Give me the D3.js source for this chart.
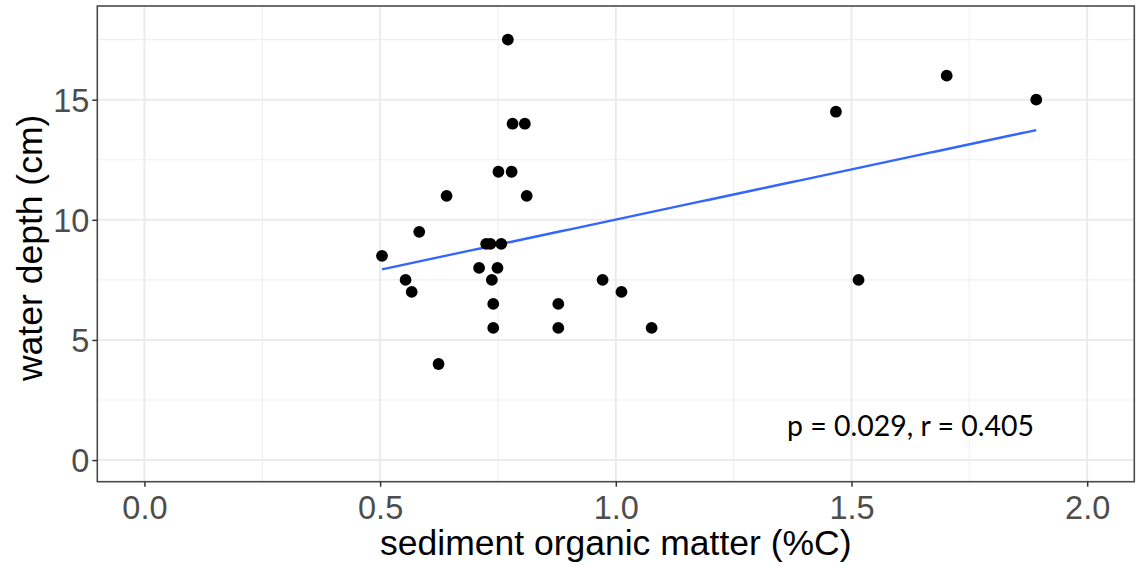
<!DOCTYPE html>
<html>
<head>
<meta charset="utf-8">
<script src="https://cdn.jsdelivr.net/npm/d3@7"></script>
<style>
  html, body { margin: 0; padding: 0; background: #ffffff; }
  svg { display: block; }
</style>
</head>
<body>
<svg id="chart" width="1141" height="565"></svg>
<script>
// Sediment organic matter (%C) vs water depth (cm), one entry per sampling site
const organicMatter = [
  0.771, 0.781, 0.807, 0.751, 0.779, 0.641, 0.811, 0.583, 0.725, 0.734,
  0.757, 0.504, 0.710, 0.749, 0.554, 0.737, 0.567, 0.740, 0.878, 0.740,
  0.878, 0.624, 0.972, 1.012, 1.076, 1.515, 1.467, 1.702, 1.892
];
const waterDepth = [
  17.5, 14, 14, 12, 12, 11, 11, 9.5, 9, 9,
  9, 8.5, 8, 8, 7.5, 7.5, 7, 6.5, 6.5, 5.5,
  5.5, 4, 7.5, 7, 5.5, 7.5, 14.5, 16, 15
];

const xTicks = [0, 0.5, 1.0, 1.5, 2.0];
const xMinorTicks = [0.25, 0.75, 1.25, 1.75];
const yTicks = [0, 5, 10, 15];
const yMinorTicks = [2.5, 7.5, 12.5, 17.5];
const xLimits = [0, 2];
const yLimits = [0, 18];
const xTitle = "sediment organic matter (%C)";
const yTitle = "water depth (cm)";
const statLabel = "p = 0.029, r = 0.405";

const svg = d3.select("#chart");
const panel = { left: 97.3, right: 1134.3, top: 6, bottom: 481.7 };

// 5% padding on both ends of each axis range
const pad = (lim) => {
  const e = (lim[1] - lim[0]) * 0.05;
  return [lim[0] - e, lim[1] + e];
};
const x = d3.scaleLinear().domain(pad(xLimits)).range([panel.left, panel.right]);
const y = d3.scaleLinear().domain(pad(yLimits)).range([panel.bottom, panel.top]);

// background
svg.append("rect")
  .attr("x", panel.left).attr("y", panel.top)
  .attr("width", panel.right - panel.left).attr("height", panel.bottom - panel.top)
  .attr("fill", "#ffffff");

// grid
const grid = svg.append("g");
grid.selectAll("line.xminor").data(xMinorTicks).join("line")
  .attr("x1", d => x(d)).attr("x2", d => x(d))
  .attr("y1", panel.top).attr("y2", panel.bottom)
  .attr("stroke", "#EFEFEF").attr("stroke-width", 1.1);
grid.selectAll("line.yminor").data(yMinorTicks).join("line")
  .attr("y1", d => y(d)).attr("y2", d => y(d))
  .attr("x1", panel.left).attr("x2", panel.right)
  .attr("stroke", "#EFEFEF").attr("stroke-width", 1.1);
grid.selectAll("line.xmajor").data(xTicks).join("line")
  .attr("x1", d => x(d)).attr("x2", d => x(d))
  .attr("y1", panel.top).attr("y2", panel.bottom)
  .attr("stroke", "#EBEBEB").attr("stroke-width", 2);
grid.selectAll("line.ymajor").data(yTicks).join("line")
  .attr("y1", d => y(d)).attr("y2", d => y(d))
  .attr("x1", panel.left).attr("x2", panel.right)
  .attr("stroke", "#EBEBEB").attr("stroke-width", 2);

// least-squares fit of depth on organic matter
const n = organicMatter.length;
const mx = d3.mean(organicMatter), my = d3.mean(waterDepth);
let sxy = 0, sxx = 0;
for (let i = 0; i < n; i++) {
  sxy += (organicMatter[i] - mx) * (waterDepth[i] - my);
  sxx += (organicMatter[i] - mx) ** 2;
}
const slope = sxy / sxx, intercept = my - slope * mx;
const [xMin, xMax] = d3.extent(organicMatter);
const fitX = d3.range(0, 81).map(i => xMin + (xMax - xMin) * i / 80);

svg.append("path")
  .datum(fitX)
  .attr("fill", "none")
  .attr("stroke", "#3366FF")
  .attr("stroke-width", 2.4)
  .attr("d", d3.line().x(d => x(d)).y(d => y(intercept + slope * d)));

// points
svg.append("g").selectAll("circle")
  .data(organicMatter.map((v, i) => [v, waterDepth[i]]))
  .join("circle")
  .attr("cx", d => x(d[0])).attr("cy", d => y(d[1]))
  .attr("r", 5.9).attr("fill", "#000000");

// panel border
svg.append("rect")
  .attr("x", panel.left).attr("y", panel.top)
  .attr("width", panel.right - panel.left).attr("height", panel.bottom - panel.top)
  .attr("fill", "none").attr("stroke", "#4a4a4a").attr("stroke-width", 1.6);

// axes
const xAxis = svg.append("g")
  .attr("transform", `translate(0,${panel.bottom})`)
  .call(d3.axisBottom(x).tickValues(xTicks).tickFormat(d3.format(".1f")).tickSize(5).tickPadding(6));
const yAxis = svg.append("g")
  .attr("transform", `translate(${panel.left},0)`)
  .call(d3.axisLeft(y).tickValues(yTicks).tickFormat(d3.format("d")).tickSize(5).tickPadding(3));

[xAxis, yAxis].forEach(g => {
  g.select(".domain").remove();
  g.selectAll(".tick line").attr("stroke", "#333333").attr("stroke-width", 1.5);
  g.selectAll(".tick text")
    .attr("fill", "#4D4D4D")
    .attr("font-family", "'Liberation Sans', Arial, sans-serif")
    .attr("font-size", 32.5);
});
xAxis.selectAll(".tick text").attr("dy", "0.8em");
yAxis.selectAll(".tick text").attr("dy", "0.36em");

// axis titles
svg.append("text")
  .attr("x", (panel.left + panel.right) / 2)
  .attr("y", 555)
  .attr("text-anchor", "middle")
  .attr("font-family", "'Liberation Sans', Arial, sans-serif")
  .attr("font-size", 35.5)
  .attr("fill", "#000000")
  .text(xTitle);

svg.append("text")
  .attr("transform", `translate(42,${(panel.top + panel.bottom) / 2 + 4}) rotate(-90)`)
  .attr("text-anchor", "middle")
  .attr("font-family", "'Liberation Sans', Arial, sans-serif")
  .attr("font-size", 35.5)
  .attr("fill", "#000000")
  .text(yTitle);

// correlation statistics
svg.append("text")
  .attr("x", 787)
  .attr("y", 436)
  .attr("font-family", "Lato, 'Open Sans', sans-serif")
  .attr("font-size", 29)
  .attr("fill", "#000000")
  .attr("textLength", 247)
  .attr("lengthAdjust", "spacingAndGlyphs")
  .text(statLabel);
</script>
</body>
</html>
